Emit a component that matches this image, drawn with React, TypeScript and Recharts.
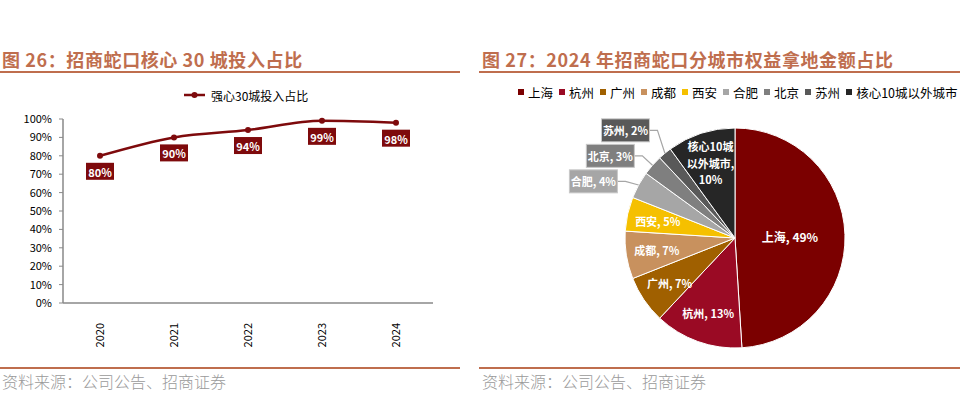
import React from 'react';
import { LineChart, Line, XAxis, YAxis, LabelList, PieChart, Pie, Cell } from 'recharts';

// ---------- data ----------
const years = ['2020', '2021', '2022', '2023', '2024'];
const investRatio = [0.8, 0.9, 0.94, 0.99, 0.98];
const yTicks = [0, 0.1, 0.2, 0.3, 0.4, 0.5, 0.6, 0.7, 0.8, 0.9, 1.0];
const lineSeriesName = '强心30城投入占比';

const cities = ['上海', '杭州', '广州', '成都', '西安', '合肥', '北京', '苏州', '核心10城以外城市'];
const cityShares = [49, 13, 7, 7, 5, 4, 3, 2, 10];

const leftTitle = '图 26：招商蛇口核心 30 城投入占比';
const rightTitle = '图 27：2024 年招商蛇口分城市权益拿地金额占比';
const sourceText = '资料来源：公司公告、招商证券';

// ---------- styles ----------
const FONT = '"Noto Sans CJK SC", "Noto Sans", sans-serif';
const ACCENT = '#BF6E4E';
const LINE_COLOR = '#7E0A0C';
const cityColors = ['#7B0000', '#9A0A24', '#A06000', '#C8915E', '#F5C000', '#A6A6A6', '#7F7F7F', '#595959', '#262626'];

const lineData = years.map((y, i) => ({ year: y, value: investRatio[i] }));
const pieData = cities.map((c, i) => ({ name: c, value: cityShares[i] }));

const RAD = Math.PI / 180;
const PIE_R = 110;
const SMALL = 0.045;

// collision-avoiding layout for outside (boxed) labels, derived from the data
const outsideLabelY = (() => {
  const total = cityShares.reduce((a, b) => a + b, 0);
  let cum = 0;
  const mids: { i: number; y: number }[] = [];
  cityShares.forEach((s, i) => {
    const mid = 90 - (360 * (cum + s / 2)) / total;
    cum += s;
    if (s / total < SMALL) {
      mids.push({ i, y: PIE_R * 1.22 * Math.sin(-mid * RAD) + 8 });
    }
  });
  mids.sort((a, b) => b.y - a.y);
  const res: Record<number, number> = {};
  let prev = Infinity;
  mids.forEach((m) => {
    const y = Math.min(m.y, prev - 25.5);
    res[m.i] = y;
    prev = y;
  });
  return res;
})();

const XTick = (props: any) => {
  const { x, y, payload } = props;
  return (
    <g transform={`translate(${x},${y})`}>
      <text transform="rotate(-90)" x={-12} y={0} dy={4} textAnchor="end" fontSize={11} fill="#000" fontFamily={FONT}>
        {payload.value}
      </text>
    </g>
  );
};

const PointLabel = (props: any) => {
  const { x, y, value } = props;
  const txt = `${Math.round(value * 100)}%`;
  return (
    <g>
      <rect x={x - 14} y={y + 7} width={28} height={17} fill={LINE_COLOR} />
      <text x={x} y={y + 16} textAnchor="middle" dominantBaseline="central" fill="#fff" fontWeight="bold" fontSize={11} fontFamily={FONT}>
        {txt}
      </text>
    </g>
  );
};

const renderPieLabel = (props: any) => {
  const { cx, cy, midAngle, outerRadius, percent, name, value, fill, index } = props;
  const cos = Math.cos(-midAngle * RAD);
  const sin = Math.sin(-midAngle * RAD);
  const pctTxt = `${value}%`;
  if (percent < SMALL) {
    const ex = cx + outerRadius * cos;
    const ey = cy + outerRadius * sin;
    const bx = cx + outerRadius * 1.22 * cos;
    const by = cy + (outsideLabelY[index] ?? outerRadius * 1.22 * sin);
    const w = 48;
    const h = 23;
    return (
      <g>
        <polyline points={`${ex},${ey} ${bx + 8},${by} ${bx},${by}`} fill="none" stroke="#A6A6A6" strokeWidth={1.2} />
        <rect x={bx - w} y={by - h / 2} width={w} height={h} fill={fill} stroke="#C8C8C8" strokeWidth={1} />
        <text x={bx - w / 2} y={by} textAnchor="middle" dominantBaseline="central" fill="#fff" fontWeight="bold" fontSize={11} fontFamily={FONT}>
          {`${name}, ${pctTxt}`}
        </text>
      </g>
    );
  }
  const rf = percent > 0.3 ? 0.5 : 0.72;
  const x = cx + outerRadius * rf * cos;
  const y = cy + outerRadius * rf * sin;
  if (name.length > 4) {
    const cut = name.indexOf('城') + 1;
    const l1 = name.slice(0, cut);
    const l2 = name.slice(cut) + ',';
    return (
      <text x={x} y={y} textAnchor="middle" fill="#fff" fontWeight="bold" fontSize={11} fontFamily={FONT}>
        <tspan x={x} dy={-12}>{l1}</tspan>
        <tspan x={x} dy={17}>{l2}</tspan>
        <tspan x={x} dy={16}>{pctTxt}</tspan>
      </text>
    );
  }
  return (
    <text x={x} y={y} textAnchor="middle" dominantBaseline="central" fill="#fff" fontWeight="bold" fontSize={percent > 0.3 ? 12 : 11} fontFamily={FONT}>
      {`${name}, ${pctTxt}`}
    </text>
  );
};

const abs = (l: number, t: number, extra: any = {}) => ({ position: 'absolute' as const, left: l, top: t, ...extra });

export default function App() {
  return (
    <div style={{ position: 'absolute', left: 0, top: 0, width: 960, height: 399, background: '#fff', fontFamily: FONT, overflow: 'hidden' }}>
      {/* titles */}
      <div style={abs(2, 46, { fontSize: 18, fontWeight: 'bold', color: ACCENT, letterSpacing: 0.6, whiteSpace: 'nowrap', lineHeight: '26px' })}>{leftTitle}</div>
      <div style={abs(482, 46, { fontSize: 18, fontWeight: 'bold', color: ACCENT, letterSpacing: 0.6, whiteSpace: 'nowrap', lineHeight: '26px' })}>{rightTitle}</div>
      <div style={abs(0, 71, { width: 460, height: 2, background: ACCENT })} />
      <div style={abs(479, 71, { width: 481, height: 2, background: ACCENT })} />
      <div style={abs(0, 367, { width: 460, height: 2, background: ACCENT })} />
      <div style={abs(479, 367, { width: 481, height: 2, background: ACCENT })} />
      <div style={abs(2, 370, { fontSize: 16, color: '#9A9A9A', fontWeight: 300, whiteSpace: 'nowrap', lineHeight: '22px' })}>{sourceText}</div>
      <div style={abs(482, 370, { fontSize: 16, color: '#9A9A9A', fontWeight: 300, whiteSpace: 'nowrap', lineHeight: '22px' })}>{sourceText}</div>

      {/* left legend */}
      <div style={abs(184, 86, { display: 'flex', alignItems: 'center', fontSize: 12, color: '#000', whiteSpace: 'nowrap', height: 18 })}>
        <svg width={22} height={10} style={{ marginRight: 5 }}>
          <line x1={0} y1={5} x2={21} y2={5} stroke={LINE_COLOR} strokeWidth={2.5} />
          <circle cx={10.5} cy={5} r={3} fill={LINE_COLOR} />
        </svg>
        <span>{lineSeriesName}</span>
      </div>

      {/* left line chart */}
      <div style={abs(0, 0)}>
        <LineChart width={460} height={399} data={lineData} margin={{ top: 119, right: 27, bottom: 56, left: 0 }}>
          <XAxis
            dataKey="year"
            interval={0}
            height={40}
            padding={{ left: 37, right: 37 }}
            tick={<XTick />}
            tickLine={false}
            axisLine={{ stroke: '#898989', strokeWidth: 1.5 }}
          />
          <YAxis
            domain={[0, 1]}
            ticks={yTicks}
            interval={0}
            width={63}
            tickFormatter={(v: number) => `${Math.round(v * 100)}%`}
            tick={{ fontSize: 11, fill: '#000', fontFamily: FONT }}
            tickSize={4}
            tickMargin={7}
            axisLine={{ stroke: '#898989', strokeWidth: 1.5 }}
            tickLine={{ stroke: '#898989' }}
          />
          <Line
            type="monotone"
            dataKey="value"
            name={lineSeriesName}
            stroke={LINE_COLOR}
            strokeWidth={2.5}
            dot={{ r: 3, fill: LINE_COLOR, stroke: LINE_COLOR, strokeWidth: 0 }}
            isAnimationActive={false}
          >
            <LabelList dataKey="value" content={<PointLabel />} />
          </Line>
        </LineChart>
      </div>

      {/* right legend */}
      <div style={abs(518, 83, { display: 'flex', alignItems: 'center', fontSize: 12.5, color: '#000', whiteSpace: 'nowrap', height: 18, gap: 6 })}>
        {cities.map((c, i) => (
          <div key={c} style={{ display: 'flex', alignItems: 'center' }}>
            <div style={{ width: 6, height: 6, background: cityColors[i], marginRight: 4 }} />
            <span>{c}</span>
          </div>
        ))}
      </div>

      {/* right pie chart */}
      <div style={abs(480, 0)}>
        <PieChart width={480} height={399} margin={{ top: 0, right: 0, bottom: 0, left: 0 }}>
          <Pie
            data={pieData}
            dataKey="value"
            nameKey="name"
            cx={255}
            cy={238}
            outerRadius={PIE_R}
            startAngle={90}
            endAngle={-270}
            stroke="#fff"
            strokeWidth={1}
            label={renderPieLabel}
            labelLine={false}
            isAnimationActive={false}
          >
            {pieData.map((d, i) => (
              <Cell key={d.name} fill={cityColors[i]} />
            ))}
          </Pie>
        </PieChart>
      </div>
    </div>
  );
}
